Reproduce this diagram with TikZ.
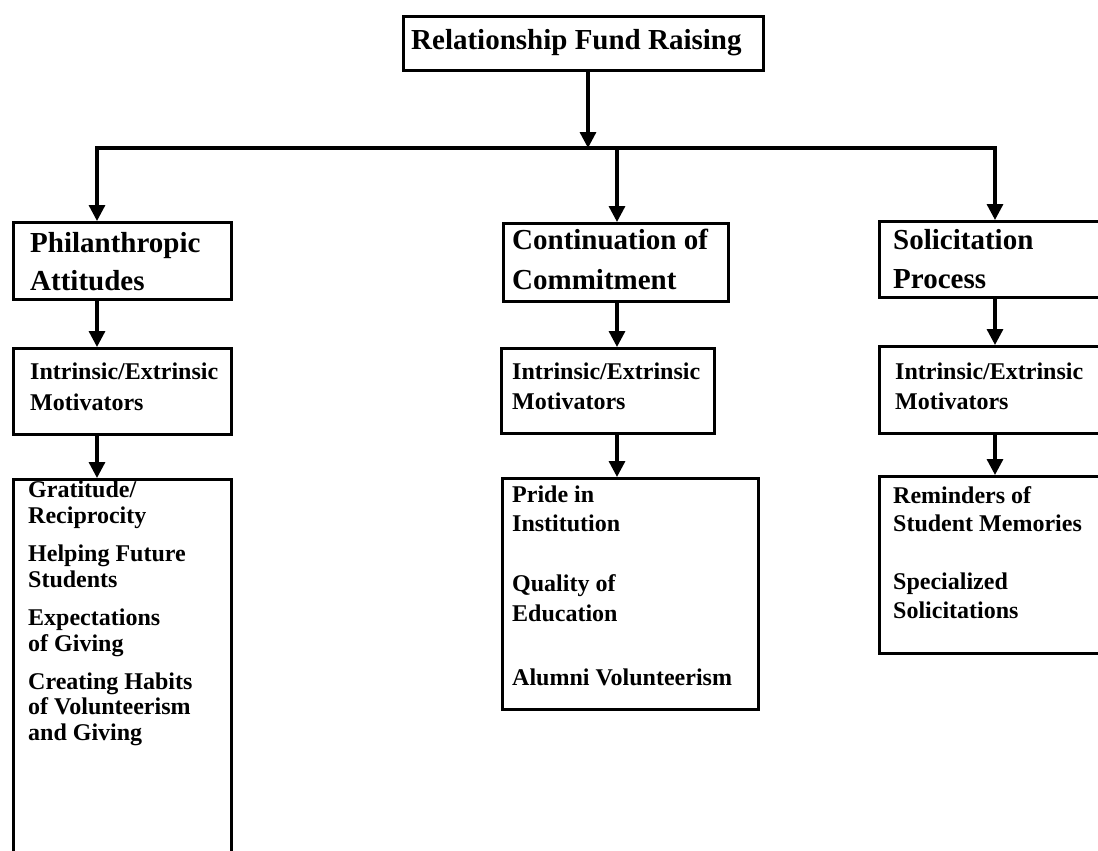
\documentclass[tikz,border=0pt]{standalone}
\usepackage{fontspec}
\setmainfont{Liberation Serif}
\usetikzlibrary{arrows.meta}
\begin{document}
\begin{tikzpicture}[x=1pt,y=-1pt,
  box/.style={draw, line width=3.3pt, rectangle, inner sep=0pt, anchor=north west},
  arr/.style={line width=3.3pt, -{Triangle[width=16pt,length=16pt]}},
  big/.style={font=\fontsize{29}{35}\selectfont\bfseries, anchor=base west, inner sep=0pt},
  med/.style={font=\fontsize{24}{29}\selectfont\bfseries, anchor=base west, inner sep=0pt}]
\fill[white] (0,0) rectangle (1098,851);
\useasboundingbox (0,0) rectangle (1098,851);
\clip (0,0) rectangle (1098,851);

% boxes
\node[box, minimum width=360pt, minimum height=54pt] (title) at (402,15) {};
\node[box, minimum width=218pt, minimum height=77pt] (A1) at (12,221) {};
\node[box, minimum width=225pt, minimum height=78pt] (B1) at (502,222) {};
\node[box, minimum width=240pt, minimum height=76pt] (C1) at (878,220) {};
\node[box, minimum width=218pt, minimum height=86pt] (A2) at (12,347) {};
\node[box, minimum width=213pt, minimum height=85pt] (B2) at (500,347) {};
\node[box, minimum width=240pt, minimum height=87pt] (C2) at (878,345) {};
\node[box, minimum width=218pt, minimum height=400pt] (A3) at (12,478) {};
\node[box, minimum width=256pt, minimum height=231pt] (B3) at (501,477) {};
\node[box, minimum width=240pt, minimum height=177pt] (C3) at (878,475) {};

% texts
\node[big] (t0) at (411,50) {Relationship Fund Raising};
\node[big] (a1a) at (30,252) {Philanthropic};
\node[big] (a1b) at (30,290) {Attitudes};
\node[big] (b1a) at (512,249) {Continuation of};
\node[big] (b1b) at (512,289) {Commitment};
\node[big] (c1a) at (893,249) {Solicitation};
\node[big] (c1b) at (893,288) {Process};

\node[med] (a2a) at (30,379) {Intrinsic/Extrinsic};
\node[med] (a2b) at (30,410) {Motivators};
\node[med] (b2a) at (512,379) {Intrinsic/Extrinsic};
\node[med] (b2b) at (512,409) {Motivators};
\node[med] (c2a) at (895,379) {Intrinsic/Extrinsic};
\node[med] (c2b) at (895,409) {Motivators};

\node[med] (a3a) at (28,497) {Gratitude/};
\node[med] (a3b) at (28,523) {Reciprocity};
\node[med] (a3c) at (28,561) {Helping Future};
\node[med] (a3d) at (28,587) {Students};
\node[med] (a3e) at (28,625) {Expectations};
\node[med] (a3f) at (28,651) {of Giving};
\node[med] (a3g) at (28,689) {Creating Habits};
\node[med] (a3h) at (28,714) {of Volunteerism};
\node[med] (a3i) at (28,740) {and Giving};

\node[med] (b3a) at (512,502) {Pride in};
\node[med] (b3b) at (512,531) {Institution};
\node[med] (b3c) at (512,591) {Quality of};
\node[med] (b3d) at (512,621) {Education};
\node[med] (b3e) at (512,685) {Alumni Volunteerism};

\node[med] (c3a) at (893,503) {Reminders of};
\node[med] (c3b) at (893,531) {Student Memories};
\node[med] (c3c) at (893,589) {Specialized};
\node[med] (c3d) at (893,618) {Solicitations};

% connectors
\coordinate (hub) at (588,148);
\coordinate (bl) at (97,148);
\coordinate (bm) at (617,148);
\coordinate (br) at (995,148);
\draw[arr] (title.south -| hub) -- (hub);
\draw[line width=3.3pt, line cap=rect] (bl) -- (br);
\draw[arr] (bl) -- (bl |- A1.north);
\draw[arr] (bm) -- (bm |- B1.north);
\draw[arr] (br) -- (br |- C1.north);
\draw[arr] (bl |- A1.south) -- (bl |- A2.north);
\draw[arr] (bm |- B1.south) -- (bm |- B2.north);
\draw[arr] (br |- C1.south) -- (br |- C2.north);
\draw[arr] (bl |- A2.south) -- (bl |- A3.north);
\draw[arr] (bm |- B2.south) -- (bm |- B3.north);
\draw[arr] (br |- C2.south) -- (br |- C3.north);
\end{tikzpicture}
\end{document}
